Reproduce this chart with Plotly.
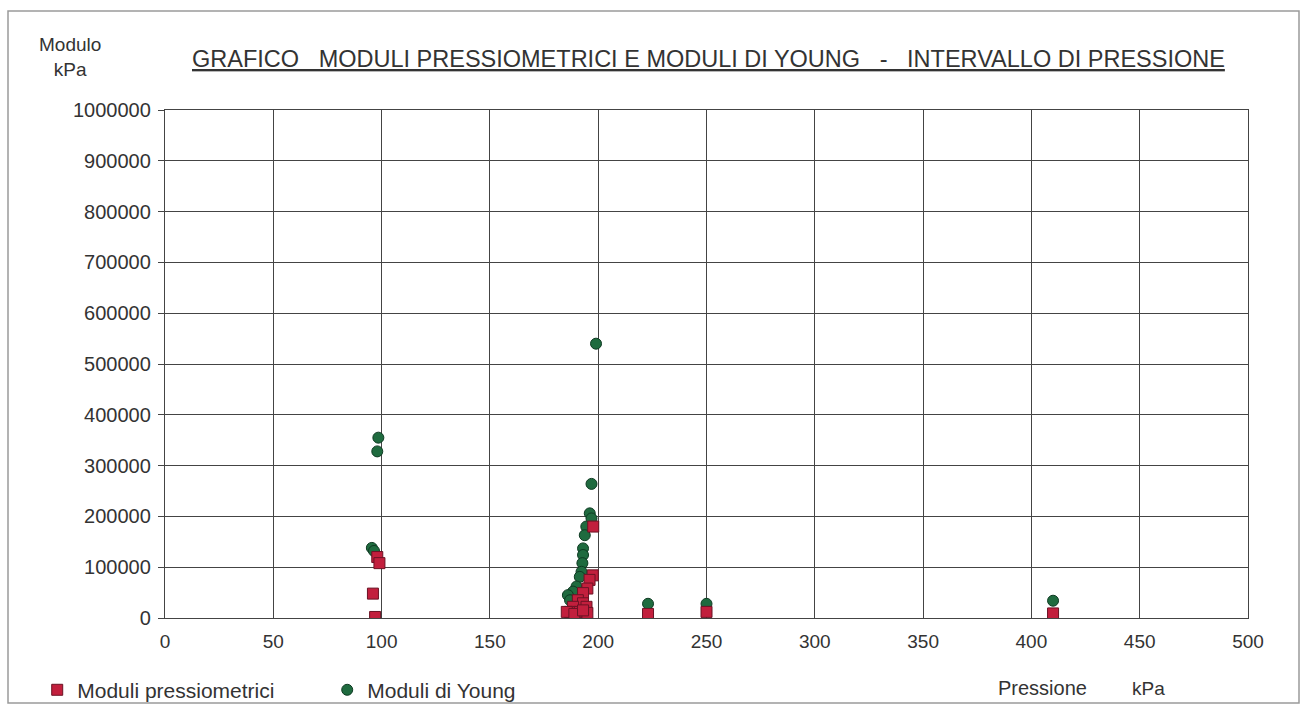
import plotly.graph_objects as go

# ── Data ──────────────────────────────────────────────────────
press_x = [98, 99, 96, 97,
           197.7, 197.5, 196, 195, 193, 190.6, 193, 188.4, 194.6,
           187, 191.5, 195, 185.5, 189, 193,
           223, 250, 410]
press_y = [120000, 108000, 48000, 2000,
           180000, 84000, 75000, 58000, 49000, 35000, 29000, 22000, 22000,
           12000, 12000, 10000, 12000, 8000, 15000,
           8000, 12000, 9000]

young_x = [98.5, 98, 95.5, 96.5,
           199, 196.9, 196.1, 196.9, 194.5, 193.8, 193, 193, 192.7,
           192.3, 191.5, 190, 188.4, 186, 187,
           223, 250, 410]
young_y = [355000, 328000, 138000, 132000,
           540000, 264000, 206000, 196000, 180000, 163000, 137000, 124000, 108000,
           91000, 81000, 62000, 52000, 45000, 35000,
           28000, 28000, 34000]

x_ticks = [0, 50, 100, 150, 200, 250, 300, 350, 400, 450, 500]
y_ticks = [0, 100000, 200000, 300000, 400000, 500000,
           600000, 700000, 800000, 900000, 1000000]

FONT = "Liberation Sans, Arial, sans-serif"
TXT = "#333333"
GRID = "#444444"

fig = go.Figure()

fig.add_trace(go.Scatter(
    x=young_x, y=young_y, mode="markers", name="Moduli di Young",
    marker=dict(symbol="circle", size=11, color="#1f6b3f",
                line=dict(color="#0e3a22", width=1)),
))
fig.add_trace(go.Scatter(
    x=press_x, y=press_y, mode="markers", name="Moduli pressiometrici",
    marker=dict(symbol="square", size=11, color="#c21f3d",
                line=dict(color="#6b1224", width=1)),
))

# plot area on screen: x 165..1248 px, y 110..618 px
fig.update_layout(
    width=1303, height=706,
    paper_bgcolor="white", plot_bgcolor="white",
    margin=dict(l=165, r=55, t=110, b=88, autoexpand=False),
    font=dict(family=FONT, color=TXT, size=18),
    showlegend=True,
    legend=dict(
        orientation="h", traceorder="reversed",
        x=-0.118, xanchor="left", y=-0.142, yanchor="middle",
        font=dict(size=21, color=TXT),
        entrywidth=245, entrywidthmode="pixels",
        bgcolor="rgba(0,0,0,0)", itemwidth=30,
    ),
    xaxis=dict(
        range=[0, 500], tickvals=x_ticks, showgrid=True,
        gridcolor=GRID, gridwidth=1.3, zeroline=False,
        showline=True, linecolor=GRID, linewidth=1.3, mirror=True,
        ticks="", ticklabelstandoff=6, tickfont=dict(size=19, color=TXT),
    ),
    yaxis=dict(
        range=[0, 1000000], tickvals=y_ticks, tickformat="d",
        showgrid=True, gridcolor=GRID, gridwidth=1.3, zeroline=False,
        showline=True, linecolor=GRID, linewidth=1.3, mirror=True,
        ticks="outside", ticklen=6, tickcolor=GRID, ticklabelstandoff=3,
        tickfont=dict(size=20, color=TXT),
    ),
)

W, H = 1083.0, 508.0


def px(x):
    return (x - 165) / W


def py(y):
    return (618 - y) / H


fig.add_annotation(
    text="<u>GRAFICO&nbsp;&nbsp; MODULI PRESSIOMETRICI E MODULI DI YOUNG&nbsp;&nbsp; -&nbsp;&nbsp; INTERVALLO DI PRESSIONE</u>",
    xref="paper", yref="paper", x=px(708), y=py(59),
    xanchor="center", yanchor="middle", showarrow=False,
    font=dict(size=23.5, color=TXT),
)
fig.add_annotation(
    text="Modulo<br>kPa", xref="paper", yref="paper",
    x=px(70), y=py(57), xanchor="center", yanchor="middle",
    showarrow=False, align="center", font=dict(size=19, color=TXT),
)
fig.add_annotation(
    text="Pressione", xref="paper", yref="paper",
    x=px(1042), y=py(688), xanchor="center", yanchor="middle",
    showarrow=False, font=dict(size=20, color=TXT),
)
fig.add_annotation(
    text="kPa", xref="paper", yref="paper",
    x=px(1148), y=py(688), xanchor="center", yanchor="middle",
    showarrow=False, font=dict(size=19, color=TXT),
)

# outer frame of the chart
fig.add_shape(
    type="rect", xref="paper", yref="paper",
    x0=px(8), x1=px(1299), y0=py(703), y1=py(11),
    line=dict(color="#9a9a9a", width=1.5), layer="below",
)

# drop the default 8px body margin so the figure fills the window
fig.write_html(
    "out.html",
    config={"displayModeBar": False},
    post_script="document.body.style.margin='0';",
)
